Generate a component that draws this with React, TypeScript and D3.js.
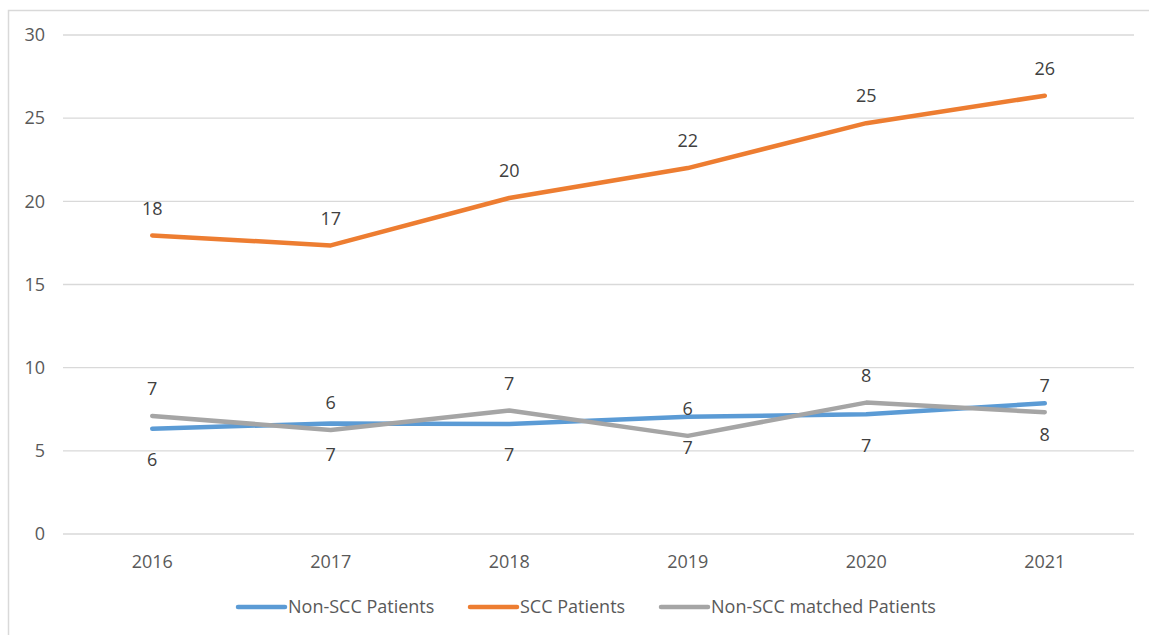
import React from "react";
import * as d3 from "d3";

const years = ["2016", "2017", "2018", "2019", "2020", "2021"];
const nonScc = [6.33, 6.65, 6.62, 7.05, 7.2, 7.86];
const scc = [17.95, 17.35, 20.2, 22.0, 24.7, 26.35];
const nonSccMatched = [7.1, 6.25, 7.42, 5.9, 7.9, 7.32];
const nonSccLabels = ["6", "7", "7", "7", "7", "8"];
const sccLabels = ["18", "17", "20", "22", "25", "26"];
const matchedLabels = ["7", "6", "7", "6", "8", "7"];
const yTicks = [0, 5, 10, 15, 20, 25, 30];

const W = 1149;
const H = 635;
const left = 63;
const right = 1134;
const top = 35;
const bottom = 534;
const font = "'Open Sans', 'Liberation Sans', sans-serif";
const textColor = "#595959";

export default function App() {
  const x = d3.scaleBand<string>().domain(years).range([left, right]);
  const y = d3.scaleLinear().domain([0, 30]).range([bottom, top]);
  const cx = (d: string) => (x(d) as number) + x.bandwidth() / 2;
  const line = d3
    .line<number>()
    .x((_, i) => cx(years[i]))
    .y((v) => y(v));

  const series = [
    { name: "Non-SCC Patients", values: nonScc, labels: nonSccLabels, color: "#5B9BD5", dy: 31 },
    { name: "SCC Patients", values: scc, labels: sccLabels, color: "#ED7D31", dy: -27 },
    { name: "Non-SCC matched Patients", values: nonSccMatched, labels: matchedLabels, color: "#A5A5A5", dy: -27 },
  ];

  const legend = [
    { name: series[0].name, color: series[0].color, x0: 238 },
    { name: series[1].name, color: series[1].color, x0: 470 },
    { name: series[2].name, color: series[2].color, x0: 661 },
  ];

  return (
    <svg
      width={W}
      height={H}
      style={{ position: "absolute", left: 0, top: 0, background: "#fff" }}
      fontFamily={font}
    >
      <rect x={8.5} y={10.5} width={1200} height={700} fill="#fff" stroke="#d9d9d9" strokeWidth={1.5} />
      {yTicks.map((t) => (
        <g key={t}>
          <line x1={left} x2={right} y1={y(t)} y2={y(t)} stroke="#d9d9d9" strokeWidth={1.3} />
          <text x={45} y={y(t)} dy="0.35em" textAnchor="end" fontSize={18} fill={textColor}>
            {t}
          </text>
        </g>
      ))}
      {years.map((yr) => (
        <text key={yr} x={cx(yr)} y={562} dy="0.35em" textAnchor="middle" fontSize={18} fill={textColor}>
          {yr}
        </text>
      ))}
      {series.map((s) => (
        <path
          key={s.name}
          d={line(s.values) || ""}
          fill="none"
          stroke={s.color}
          strokeWidth={4.5}
          strokeLinecap="round"
          strokeLinejoin="round"
        />
      ))}
      {series.map((s) =>
        s.values.map((v, i) => (
          <text
            key={s.name + i}
            x={cx(years[i])}
            y={y(v) + s.dy}
            dy="0.35em"
            textAnchor="middle"
            fontSize={18}
            fill="#404040"
          >
            {s.labels[i]}
          </text>
        ))
      )}
      {legend.map((l) => (
        <g key={l.name}>
          <line x1={l.x0} x2={l.x0 + 47} y1={607} y2={607} stroke={l.color} strokeWidth={4.5} strokeLinecap="round" />
          <text x={l.x0 + 50} y={607} dy="0.35em" fontSize={18} fill={textColor}>
            {l.name}
          </text>
        </g>
      ))}
    </svg>
  );
}
